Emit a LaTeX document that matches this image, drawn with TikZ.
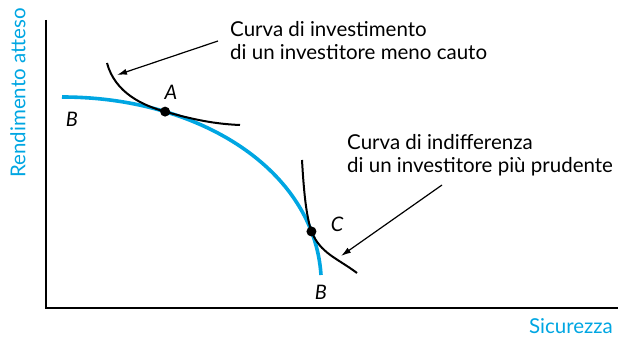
\documentclass[tikz,border=0pt]{standalone}
\usepackage{fontspec}
\setmainfont{Lato}
\usetikzlibrary{arrows.meta,calc}
\definecolor{cyanb}{RGB}{0,166,226}
\begin{document}
\begin{tikzpicture}[x=1pt,y=-1pt,
  axis/.style={line width=1.4pt,black},
  front/.style={line width=3.6pt,cyanb},
  indiff/.style={line width=2pt,black},
  lab/.style={font=\fontsize{20.5}{24}\selectfont,inner sep=0pt,anchor=base west},
  pt/.style={font=\fontsize{20}{24}\selectfont\itshape,inner sep=0pt},
  ax/.style={font=\fontsize{20.5}{24}\selectfont,text=cyanb,inner sep=0pt},
  dot/.style={circle,fill=black,inner sep=0pt,minimum size=10pt},
  arr/.style={line width=1.2pt,-{Latex[length=10pt,width=6pt]}}]
\useasboundingbox (0,0) rectangle (618,339);
% axes
\draw[axis] (46,20) -- (46,308) -- (618,308);
\node[ax,rotate=90] (ylab) at (18,93) {Rendimento atteso};
\node[ax] (xlab) at (571,326) {Sicurezza};
% frontier
\draw[front] (62,97) .. controls (200,97) and (314,170) .. (321,275)
  coordinate[pos=0.265] (A) coordinate[pos=0.855] (C);
% indifference curves
\draw[indiff] (107,63) .. controls +(8,30) and +(-22,-6) .. (A)
  .. controls +(28,8) and +(-25,-1) .. (240,125);
\draw[indiff] (302,160) .. controls +(2,35) and +(-5,-15) .. (C)
  .. controls +(9,22) and +(-20,-15) .. (357,273);
\node[dot] (Ad) at (A) {};
\node[dot] (Cd) at (C) {};
% point labels
\node[pt] (Al) at (171,92) {A};
\node[pt] (B1) at (72,119) {B};
\node[pt] (Cl) at (337,224) {C};
\node[pt] (B2) at (321,292) {B};
% annotations
\node[lab] (t1a) at (230,37) {Curva di investimento};
\node[lab] (t1b) at (230,60) {di un investitore meno cauto};
\node[lab] (t2a) at (347,150) {Curva di indifferenza};
\node[lab] (t2b) at (347,173) {di un investitore più prudente};
\coordinate (a1s) at (218,41);
\coordinate (a1e) at (117,75);
\coordinate (a2s) at (442,185);
\coordinate (a2e) at (341,256);
\draw[arr] (a1s) -- (a1e);
\draw[arr] (a2s) -- (a2e);
\end{tikzpicture}
\end{document}
